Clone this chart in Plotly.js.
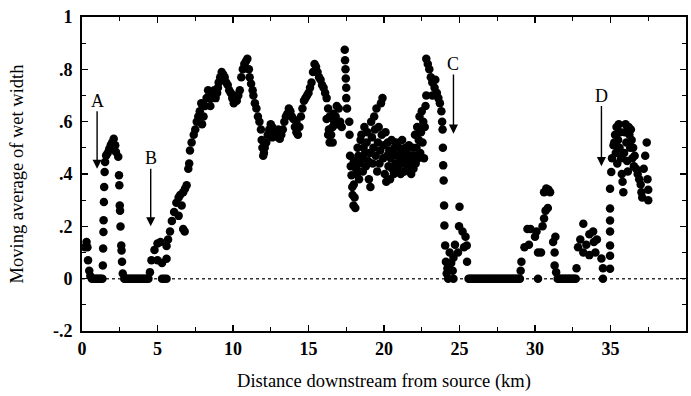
<!DOCTYPE html>
<html>
<head>
<meta charset="utf-8">
<script src="https://cdn.plot.ly/plotly-3.0.1.min.js"></script>
<style>html,body{margin:0;padding:0;background:#fff;}#chart{width:691px;height:396px;}</style>
</head>
<body>
<div id="chart"></div>
<script>
// [distance km, moving average of wet width]
const headwaters = [[0.2,0.12],[0.3,0.14],[0.36,0.12],[0.4,0.07],[0.48,0.03],[0.55,0.01],[0.65,0],[0.75,0],[0.85,0],[0.95,0],[1.05,0],[1.15,0],[1.25,0],[1.35,0]];
const reachA = [[1.38,0.05],[1.4,0.115],[1.42,0.178],[1.43,0.223],[1.45,0.293],[1.47,0.35],[1.5,0.408],[1.53,0.446],[1.6,0.471],[1.7,0.48],[1.8,0.495],[1.9,0.51],[2.0,0.52],[2.1,0.535],[2.2,0.51],[2.25,0.484],[2.4,0.466],[2.45,0.395],[2.47,0.357],[2.5,0.28],[2.52,0.26],[2.55,0.199],[2.6,0.127],[2.62,0.108],[2.65,0.065],[2.7,0.02]];
const dryReach1 = [[2.8,0],[2.9,0],[3.0,0],[3.1,0],[3.2,0],[3.3,0],[3.4,0],[3.5,0],[3.6,0],[3.7,0],[3.8,0],[3.9,0],[4.0,0],[4.1,0],[4.2,0],[4.3,0],[4.4,0]];
const reachB = [[4.5,0.025],[4.6,0.07],[4.8,0.11],[5.0,0.134],[5.2,0.14],[5.0,0.07],[5.3,0.06],[5.3,0.0],[5.45,0.0],[5.6,0.0],[5.6,0.076],[5.6,0.125],[5.7,0.15],[5.83,0.18],[5.95,0.22],[6.1,0.255],[6.25,0.29],[6.4,0.31],[6.4,0.24],[6.5,0.32],[6.6,0.28],[6.7,0.33],[6.7,0.19],[6.8,0.18],[6.82,0.344],[6.93,0.357],[7.04,0.42],[7.1,0.44],[7.15,0.49],[7.26,0.52],[7.4,0.55],[7.5,0.57],[7.6,0.60],[7.7,0.62],[7.8,0.64],[7.9,0.67]];
const upperMain = [[7.95,0.59],[8.05,0.62],[8.0,0.66],[8.15,0.66],[8.25,0.69],[8.35,0.72],[8.45,0.70],[8.5,0.66],[8.55,0.69],[8.65,0.70],[8.75,0.72],[8.85,0.69],[8.95,0.71],[9.0,0.73],[9.05,0.75],[9.15,0.77],[9.25,0.79],[9.35,0.78],[9.45,0.77],[9.55,0.75],[9.65,0.74],[9.75,0.72],[9.85,0.71],[9.95,0.69],[10.05,0.67],[10.1,0.70],[10.15,0.68],[10.25,0.68],[10.35,0.70],[10.45,0.72],[10.55,0.77],[10.65,0.80],[10.75,0.82],[10.85,0.83],[10.95,0.84],[11.05,0.80],[11.1,0.77],[11.2,0.745],[11.3,0.72],[11.35,0.70],[11.45,0.67],[11.55,0.65],[11.65,0.62],[11.75,0.60],[11.85,0.57],[11.9,0.53],[11.95,0.50],[12.0,0.47],[12.05,0.48],[12.1,0.50],[12.2,0.52],[12.3,0.55],[12.4,0.57],[12.5,0.59],[12.6,0.58],[12.6,0.54],[12.7,0.57],[12.8,0.56],[12.9,0.55],[13.0,0.54],[13.0,0.57],[13.1,0.535],[13.2,0.55],[13.3,0.57],[13.4,0.60],[13.5,0.62],[13.6,0.63],[13.7,0.65],[13.8,0.64],[13.9,0.62],[14.0,0.61],[14.1,0.58],[14.2,0.56],[14.2,0.60],[14.3,0.55],[14.4,0.58],[14.5,0.62],[14.6,0.65],[14.7,0.68],[14.8,0.69],[14.9,0.70],[15.0,0.71],[15.1,0.73],[15.2,0.75],[15.3,0.79],[15.4,0.82],[15.5,0.81],[15.6,0.79],[15.7,0.77],[15.8,0.76],[15.9,0.74],[16.0,0.73],[16.1,0.71],[16.2,0.69],[16.2,0.61],[16.3,0.65],[16.3,0.55],[16.35,0.57],[16.4,0.52],[16.4,0.62],[16.5,0.55],[16.6,0.58],[16.6,0.52],[16.65,0.63],[16.7,0.60],[16.8,0.62],[16.87,0.66],[16.9,0.59],[17.0,0.65],[17.1,0.60],[17.2,0.58]];
const peak17 = [[17.4,0.875],[17.42,0.835],[17.45,0.80],[17.47,0.765],[17.5,0.73],[17.5,0.69],[17.55,0.65],[17.7,0.60],[17.72,0.55],[17.75,0.47],[17.8,0.43],[17.85,0.395],[17.9,0.35],[17.92,0.32],[17.98,0.28]];
const midCluster = [[18.0,0.45],[18.0,0.36],[18.05,0.31],[18.1,0.27],[18.15,0.42],[18.2,0.40],[18.25,0.50],[18.3,0.47],[18.35,0.38],[18.4,0.44],[18.45,0.53],[18.5,0.55],[18.55,0.46],[18.6,0.41],[18.65,0.50],[18.7,0.58],[18.75,0.48],[18.8,0.43],[18.85,0.52],[18.9,0.56],[18.95,0.45],[19.0,0.38],[19.05,0.48],[19.1,0.35],[19.15,0.60],[19.2,0.54],[19.25,0.44],[19.3,0.50],[19.35,0.62],[19.4,0.57],[19.45,0.47],[19.5,0.65],[19.55,0.41],[19.6,0.52],[19.65,0.58],[19.7,0.44],[19.75,0.49],[19.8,0.67],[19.85,0.55],[19.9,0.69],[19.95,0.46],[20.0,0.51],[20.05,0.40],[20.1,0.56],[20.15,0.37],[20.2,0.47],[20.25,0.52],[20.3,0.43],[20.35,0.49],[20.4,0.38],[20.45,0.46],[20.5,0.53],[20.55,0.42],[20.6,0.48],[20.65,0.40],[20.7,0.50],[20.75,0.44],[20.8,0.52],[20.85,0.41],[20.9,0.47],[20.95,0.43],[21.0,0.50],[21.05,0.45],[21.1,0.40],[21.15,0.48],[21.2,0.53],[21.25,0.44],[21.3,0.47],[21.35,0.41],[21.4,0.50],[21.45,0.44],[21.5,0.48],[21.55,0.42],[21.6,0.46],[21.65,0.51],[21.7,0.43],[21.75,0.47],[21.8,0.40],[21.85,0.45],[21.9,0.50],[21.95,0.42],[22.0,0.47],[22.05,0.55],[22.1,0.44],[22.15,0.50],[22.2,0.58],[22.25,0.46],[22.3,0.53],[22.35,0.62],[22.4,0.48],[22.45,0.56],[22.5,0.64],[22.55,0.52],[22.6,0.60],[22.65,0.46],[22.7,0.58],[22.75,0.66],[22.8,0.70]];
const reachC = [[22.8,0.84],[22.9,0.82],[23.0,0.80],[23.1,0.77],[23.2,0.75],[23.2,0.70],[23.35,0.73],[23.4,0.76],[23.5,0.71],[23.6,0.69],[23.7,0.67],[23.8,0.64],[23.85,0.60],[23.88,0.57],[23.9,0.50],[23.92,0.433],[23.95,0.375],[23.98,0.28],[24.0,0.203],[24.05,0.127],[24.1,0.065],[24.15,0.02],[24.25,0.0],[24.2,0.04],[24.35,0.1],[24.45,0.06],[24.55,0.03],[24.6,0.0],[24.6,0.08],[24.7,0.13],[24.9,0.1],[24.97,0.2],[25.0,0.275],[25.2,0.18],[25.3,0.12],[25.4,0.16],[25.48,0.127],[25.5,0.065]];
const dryReach2 = [[25.6,0],[25.7,0],[25.8,0],[25.9,0],[26.0,0],[26.1,0],[26.2,0],[26.3,0],[26.4,0],[26.5,0],[26.6,0],[26.7,0],[26.8,0],[26.9,0],[27.0,0],[27.1,0],[27.2,0],[27.3,0],[27.4,0],[27.5,0],[27.6,0],[27.7,0],[27.8,0],[27.9,0],[28.0,0],[28.1,0],[28.2,0],[28.3,0],[28.4,0],[28.5,0],[28.6,0],[28.7,0],[28.8,0],[28.9,0],[29.0,0]];
const bump30 = [[29.05,0.03],[29.1,0.065],[29.3,0.12],[29.5,0.19],[29.6,0.13],[29.7,0.19],[30.0,0.16],[30.1,0.18],[30.2,0.1],[30.2,0.0],[30.4,0.1],[30.5,0.2],[30.6,0.23],[30.7,0.26],[30.6,0.33],[30.75,0.345],[30.9,0.34],[31.0,0.33],[30.85,0.27],[31.2,0.14],[31.3,0.1],[31.35,0.16],[31.3,0.05],[31.4,0.025]];
const dryReach3 = [[31.5,0],[31.6,0],[31.7,0],[31.8,0],[31.9,0],[32.0,0],[32.1,0],[32.2,0],[32.3,0],[32.4,0],[32.5,0],[32.6,0],[32.7,0]];
const bump33 = [[32.75,0.04],[32.85,0.12],[33.0,0.15],[33.2,0.21],[33.2,0.1],[33.4,0.13],[33.6,0.17],[33.6,0.09],[33.85,0.18],[33.9,0.14],[34.0,0.1],[34.1,0.15],[34.4,0.077],[34.5,0.04],[34.5,0.0]];
const reachD = [[34.97,0.038],[34.97,0.088],[34.97,0.127],[34.97,0.18],[34.97,0.222],[34.97,0.268],[34.97,0.344],[35.05,0.408],[35.1,0.46],[35.2,0.51],[35.25,0.52],[35.3,0.55],[35.35,0.48],[35.4,0.58],[35.45,0.44],[35.5,0.53],[35.55,0.59],[35.6,0.50],[35.65,0.56],[35.7,0.46],[35.75,0.40],[35.8,0.37],[35.85,0.33],[35.9,0.48],[35.95,0.56],[36.0,0.59],[36.05,0.52],[36.1,0.45],[36.15,0.41],[36.2,0.58],[36.25,0.55],[36.3,0.50],[36.35,0.57],[36.4,0.53],[36.45,0.46],[36.5,0.50],[36.55,0.43],[36.6,0.47],[36.7,0.42],[36.8,0.40],[36.9,0.38],[37.0,0.36],[37.05,0.33],[37.1,0.31],[37.2,0.42],[37.3,0.47],[37.4,0.52],[37.45,0.38],[37.5,0.34],[37.5,0.30]];

const yTickVals = [-0.2, 0, 0.2, 0.4, 0.6, 0.8, 1];
const yTickText = ['-.2', '0', '.2', '.4', '.6', '.8', '1'];
const xTickVals = [0, 5, 10, 15, 20, 25, 30, 35, 40];
const xTickText = ['0', '5', '10', '15', '20', '25', '30', '35', '40'];
const markLabels = ['A', 'B', 'C', 'D'];
const markKm = [1.0, 4.55, 24.6, 34.4];
const markLabelY = [0.68, 0.46, 0.82, 0.70];
const markTipY = [0.42, 0.20, 0.554, 0.43];

const all = [].concat(headwaters, reachA, dryReach1, reachB, upperMain, peak17, midCluster, reachC, dryReach2, bump30, dryReach3, bump33, reachD);
const xs = all.map(p => p[0]);
const ys = all.map(p => p[1]);

const font = 'Liberation Serif, Times New Roman, serif';

const trace = {
  type: 'scatter', mode: 'markers', x: xs, y: ys,
  marker: {color: '#000', size: 8.5, line: {width: 0}},
  hoverinfo: 'skip', cliponaxis: false
};

const annotations = markLabels.map((t, i) => ({
  x: markKm[i], y: markTipY[i], xref: 'x', yref: 'y',
  ax: markKm[i], ay: markLabelY[i], axref: 'x', ayref: 'y',
  text: t, showarrow: true, arrowhead: 2, arrowsize: 1.3, arrowwidth: 1.4,
  arrowcolor: '#000', font: {family: font, size: 18, color: '#000'}, borderpad: 0, standoff: 0
}));

const layout = {
  width: 691, height: 396,
  margin: {l: 82, r: 5, t: 17, b: 65},
  paper_bgcolor: '#fff', plot_bgcolor: '#fff',
  showlegend: false,
  xaxis: {
    range: [0, 40], tickvals: xTickVals, ticktext: xTickText,
    ticks: 'inside', ticklen: 6, tickwidth: 1.5, tickcolor: '#000',
    minor: {dtick: 2.5, tick0: 0, ticks: 'inside', ticklen: 4, tickwidth: 1.2, tickcolor: '#000'},
    showline: true, linewidth: 2, linecolor: '#000', mirror: 'ticks',
    showgrid: false, zeroline: false,
    tickfont: {family: font, size: 18, color: '#000', weight: 'bold'},
    title: {text: 'Distance downstream from source (km)', font: {family: font, size: 18.5, color: '#000'}, standoff: 16},
    automargin: false, fixedrange: true
  },
  yaxis: {
    range: [-0.2, 1], tickvals: yTickVals, ticktext: yTickText,
    ticks: 'inside', ticklen: 6, tickwidth: 1.5, tickcolor: '#000',
    minor: {dtick: 0.1, tick0: 0, ticks: 'inside', ticklen: 4, tickwidth: 1.2, tickcolor: '#000'},
    showline: true, linewidth: 2, linecolor: '#000', mirror: 'ticks',
    showgrid: false, zeroline: false,
    tickfont: {family: font, size: 18, color: '#000', weight: 'bold'},
    ticklabelstandoff: 4,
    title: {text: 'Moving average of wet width', font: {family: font, size: 18.5, color: '#000'}, standoff: 24},
    automargin: false, fixedrange: true
  },
  shapes: [{
    type: 'line', xref: 'paper', x0: 0, x1: 1, yref: 'y', y0: 0, y1: 0,
    line: {color: '#333', width: 1.5, dash: 'dot'}, layer: 'below'
  }],
  annotations: annotations
};

Plotly.newPlot('chart', [trace], layout, {displayModeBar: false, staticPlot: true});
</script>
</body>
</html>
